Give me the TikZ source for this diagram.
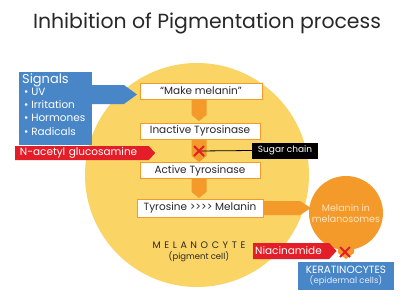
\documentclass[tikz,border=0pt]{standalone}
\usepackage{fontspec}
\setmainfont{Poppins}
\usetikzlibrary{shapes.symbols}
\definecolor{cyel}{RGB}{250,212,100}
\definecolor{corg}{RGB}{243,154,43}
\definecolor{cblue}{RGB}{72,134,200}
\definecolor{cred}{RGB}{228,30,40}
\definecolor{ctxt}{RGB}{40,40,40}
\newcommand{\lsp}{\hspace{3.6bp}}
\tikzset{
  stepbox/.style={draw=corg, line width=0.5pt, fill=white, minimum width=120bp, minimum height=16bp, inner sep=0pt, font=\fontsize{10.5}{12}\selectfont, text=ctxt},
  redsig/.style={signal, signal to=east, signal pointer angle=95, fill=cred, text=white, inner sep=0pt, font=\fontsize{10.5}{12}\selectfont, anchor=west},
  xmark/.style={draw=cred, line width=2pt},
}
\begin{document}
\begin{tikzpicture}[x=1bp,y=-1bp]
\useasboundingbox (0,0) rectangle (400,299);
\fill[white] (0,0) rectangle (400,299);
% title
\node[font=\fontsize{20.5}{22}\selectfont, text=ctxt] (title) at (207,23) {Inhibition of Pigmentation process};
% melanocyte
\fill[cyel] (197,175) circle (112);
\node[font=\fontsize{9.5}{11}\selectfont, text=ctxt] (mel) at (199,245) {M\lsp E\lsp L\lsp A\lsp N\lsp O\lsp C\lsp Y\lsp T\lsp E};
\node[font=\fontsize{8.5}{9}\selectfont, text=ctxt] (pig) at (199,257) {(pigment cell)};
% signals
\node[fill=cblue, minimum width=73bp, minimum height=73bp, inner sep=0pt, anchor=north west] (sig) at (19,72) {};
\fill[cblue] (92,85) -- (124,85) -- (137,94.5) -- (124,104) -- (92,104) -- cycle;
\node[anchor=north west, text=white, font=\fontsize{13}{14}\selectfont, inner sep=0pt] (sigt) at (22,73) {Signals};
\node[anchor=north west, text=white, font=\fontsize{10.5}{13.3}\selectfont, inner sep=0pt, align=left] (sigl) at (24,88) {\textbullet\ UV\\\textbullet\ Irritation\\\textbullet\ Hormones\\\textbullet\ Radicals};
% chevrons
\newcommand{\chev}[3]{\fill[corg] (#1-7.5,#2) -- (#1+7.5,#2) -- (#1+7.5,#3-6) -- (#1,#3) -- (#1-7.5,#3-6) -- cycle;}
\chev{199}{99}{121}
\chev{199}{139}{162}
\chev{199}{179}{198}
% boxes
\node[stepbox, minimum width=122bp] (make) at (201,91) {“Make melanin”};
\node[stepbox] (inact) at (200,131) {Inactive Tyrosinase};
\node[stepbox] (act) at (200,170.5) {Active Tyrosinase};
\node[stepbox, minimum width=126bp, minimum height=18bp] (tyr) at (200,208) {Tyrosine >{}>{}>{}> Melanin};
% sugar chain
\node[fill=black, text=white, minimum width=66bp, minimum height=16bp, inner sep=0pt, font=\fontsize{9}{10}\selectfont] (sugar) at (285,150.5) {Sugar chain};
\coordinate (x1) at (199,151);
\draw[line width=0.8pt] (x1) -- (sugar.west);
\draw[xmark] (x1)++(-5,-5) -- ++(10,10) (x1)++(-5,5) -- ++(10,-10);
% N-acetyl
\node[redsig, minimum width=140bp, minimum height=14bp, text width=130bp, align=left] (nag) at (15,153) {\hspace{3bp}N-acetyl glucosamine};
% melanin arrow and circle
\fill[corg] (263,201) -- (300,201) -- (311,208) -- (300,215) -- (263,215) -- cycle;
\fill[corg] (346,213) circle (37);
\node[text={rgb,255:red,255;green,228;blue,190}, font=\fontsize{9.5}{11}\selectfont, align=center] (mm) at (346,213) {Melanin in\\melanosomes};
\fill[corg] (338,244) -- (354,244) -- (354,253) -- (346,259) -- (338,253) -- cycle;
% keratinocytes
\node[fill=cblue, minimum width=96bp, minimum height=28bp, inner sep=0pt, align=center, text=white, font=\fontsize{10.5}{11}\selectfont] (ker) at (346,276) {KERATINOCYTES\\[-1pt]{\fontsize{8.5}{9}\selectfont\color{white!85!cblue}(epidermal cells)}};
% niacinamide
\node[redsig, minimum width=82bp, minimum height=16bp, text width=76bp, align=left] (nia) at (253,251) {\hspace{2bp}Niacinamide};
\coordinate (x2) at (345,252);
\draw[xmark] (x2)++(-5,-5) -- ++(10,10) (x2)++(-5,5) -- ++(10,-10);
\end{tikzpicture}
\end{document}
